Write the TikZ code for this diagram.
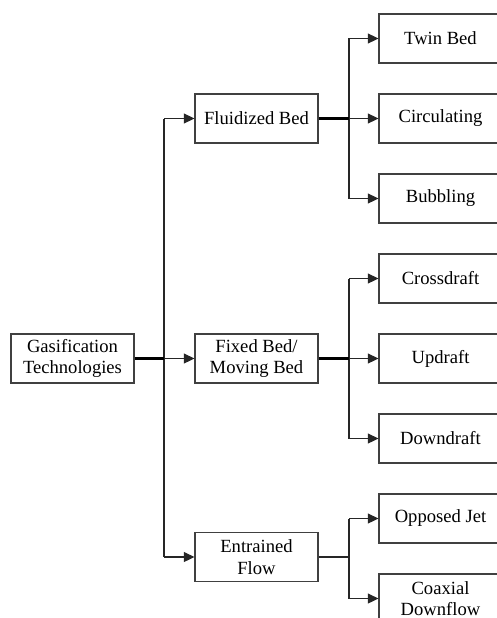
\documentclass[tikz,border=0pt]{standalone}
\usepackage{fontspec}
\setmainfont{Liberation Serif}
\usetikzlibrary{arrows.meta}
\begin{document}
\begin{tikzpicture}[x=1pt,y=-1pt,
  box/.style={draw=black!75,line width=1.3pt,minimum width=123pt,minimum height=49pt,inner sep=0pt,align=center,font=\fontsize{18.6}{21.5}\selectfont,text=black},
  conn/.style={draw=black!85,line width=1.3pt},
  thk/.style={draw=black,line width=2.4pt},
  arr/.style={conn,-{Triangle[length=10.5pt,width=10pt]}}]
\useasboundingbox (0,0) rectangle (496,618);
\node[box] (gas) at (72.5,358.5) {Gasification\\Technologies};
\node[box] (fluid) at (256.5,118.5) {Fluidized Bed};
\node[box] (fixed) at (256.5,358.5) {Fixed Bed/\\Moving Bed};
\node[box] (entr) at (256.5,557) {Entrained\\Flow};
\node[box] (twin) at (440.5,38.5) {Twin Bed};
\node[box] (circ) at (440.5,118.5) {Circulating};
\node[box] (bubb) at (440.5,198.5) {Bubbling};
\node[box] (cross) at (440.5,278.5) {Crossdraft};
\node[box] (up) at (440.5,358.5) {Updraft};
\node[box] (down) at (440.5,438.5) {Downdraft};
\node[box] (opp) at (440.5,518.5) {Opposed Jet};
\node[box] (coax) at (440.5,598.5) {Coaxial\\Downflow};
% trunk
\coordinate (t1) at (164,118.5);
\coordinate (t2) at (164,358.5);
\coordinate (t3) at (164,557);
\draw[conn] (t1) -- (t3);
\draw[thk] (gas.east) -- (t2);
\draw[arr] (t1) -- (fluid.west);
\draw[arr] (t2) -- (fixed.west);
\draw[arr] (t3) -- (entr.west);
% fluidized branch
\coordinate (a0) at (349,118.5);
\coordinate (a1) at (349,38.5);
\coordinate (a3) at (349,198.5);
\draw[conn] (a1) -- (a3);
\draw[thk] (fluid.east) -- (a0);
\draw[arr] (a1) -- (twin.west);
\draw[arr] (a0) -- (circ.west);
\draw[arr] (a3) -- (bubb.west);
% fixed branch
\coordinate (b0) at (349,358.5);
\coordinate (b1) at (349,278.5);
\coordinate (b3) at (349,438.5);
\draw[conn] (b1) -- (b3);
\draw[thk] (fixed.east) -- (b0);
\draw[arr] (b1) -- (cross.west);
\draw[arr] (b0) -- (up.west);
\draw[arr] (b3) -- (down.west);
% entrained branch
\coordinate (c0) at (349,557);
\coordinate (c1) at (349,518.5);
\coordinate (c3) at (349,598.5);
\draw[conn] (c1) -- (c3);
\draw[conn] (entr.east) -- (c0);
\draw[arr] (c1) -- (opp.west);
\draw[arr] (c3) -- (coax.west);
\end{tikzpicture}
\end{document}
